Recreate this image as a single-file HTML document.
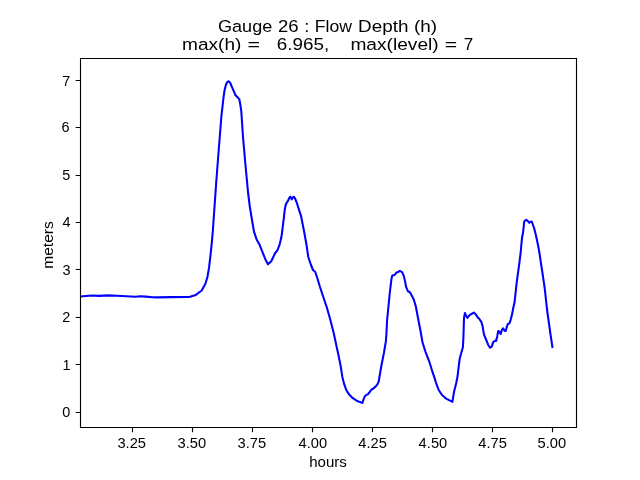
<!DOCTYPE html>
<html><head><meta charset="utf-8"><title>Gauge 26 : Flow Depth (h)</title><style>html,body{margin:0;padding:0;background:#fff;width:640px;height:480px;overflow:hidden}svg{display:block;will-change:transform}text{font-family:"Liberation Sans",sans-serif;fill:#000;white-space:pre}</style></head><body>
<svg width="640" height="480" viewBox="0 0 640 480">
<rect x="0" y="0" width="640" height="480" fill="#fff"/>
<defs><clipPath id="ax"><rect x="80" y="57.6" width="496" height="369.6"/></clipPath></defs><path id="curve" clip-path="url(#ax)" d="M80 296.5 L86 296 L92 295.5 L99 295.9 L108 295.4 L117 295.8 L126 296.3 L136 296.7 L140 296.3 L146 296.6 L152 297.2 L157 297.4 L170.8 297.1 L188.6 297 L190 296.8 L195.8 294.9 L201.7 290.5 L205.3 284 L207.5 276.7 L209 267.9 L210.4 256.2 L211.9 241.7 L212.9 230 L216.25 182 L218.75 149.5 L221.5 115 L222.5 106.7 L223.5 97.5 L224.6 90 L226 84.6 L227.5 81.8 L228.5 81.25 L230 82.5 L232 87.1 L233.75 91.2 L235.5 95.25 L237.8 97.6 L239.3 99.3 L240.2 104 L241.25 110.8 L243 137 L245.2 162 L248 192 L249.8 206.7 L252 220 L254 231.7 L256.5 239.2 L259.3 244.2 L262.3 251.7 L265.3 259.2 L268 264.3 L271.25 261.25 L275.2 253 L277.4 250.3 L279.6 244.6 L281.3 237.6 L282.2 231.5 L282.6 228 L283.8 218.3 L284.7 210 L285.7 205 L286.75 202.5 L288 200.8 L289.25 197.9 L290.3 196.7 L291.75 199.3 L293 197.1 L294 196.7 L295.1 198.75 L296.75 202.5 L298.8 209.2 L301 215.8 L304.2 232 L306.3 243.7 L308.3 257 L310.8 264.5 L313 270 L315.3 272 L317.5 278.7 L320 287 L322.2 293.7 L327 308 L330.3 319.7 L333.7 333 L336.2 344.7 L338.7 356.3 L340.7 366.3 L342.3 376.7 L344.2 384.2 L346.25 390 L349.2 394.6 L352.5 397.9 L356.7 400.7 L360 402.1 L362.4 402.9 L364.3 397.25 L365.9 395.1 L367.75 394.4 L369.6 392.25 L371.2 389.75 L373.1 388.8 L375.25 386.9 L377.4 384.4 L378.7 381.6 L379.6 376 L381.5 365 L384 352.5 L385.9 341.2 L386.5 332.5 L387.1 320 L389.1 300 L389.6 294.5 L390.7 285.3 L391.5 278.7 L392.3 275.5 L394.6 274.9 L396.25 272.8 L398.3 272 L399.8 270.75 L402.3 272.4 L404 276.6 L405.1 281.6 L406.2 287.2 L407.9 291.1 L410.1 292.5 L412.2 296.4 L413.75 299.5 L415.8 306.3 L418 318 L420.3 329.7 L422.5 342.2 L425.3 351.3 L429.2 361.3 L432.4 371.7 L434.1 376.7 L436.2 383.3 L438.7 390 L442 395 L445.75 398.3 L449.5 400.4 L452.4 401.8 L454 392 L456.3 382.7 L457.6 376 L458.7 366.7 L459.7 358.7 L461.3 352.7 L462.9 347.3 L463.3 340 L463.5 334.2 L464 318.1 L464.9 313 L465.9 315.2 L467.4 317.8 L469.6 315.2 L471.8 313.75 L473.9 312.6 L475.8 314.4 L477.6 317.2 L479.4 319 L481.3 321.8 L482.6 326.3 L484 334.6 L485.9 339.2 L488.1 344.7 L490 347.6 L491.75 346.6 L493.2 342.2 L494.8 340.8 L496.1 341.1 L497.2 336.5 L498.2 331 L499.5 331.8 L500.7 333.9 L501.75 330.2 L503.1 328.3 L504.5 330.7 L505.7 331 L506.75 327.1 L507.8 324 L509.4 323.4 L510.7 319.8 L512 314.6 L513.2 308.3 L514.6 302 L516.6 283.3 L519.4 262.6 L520.75 252 L521.3 245.3 L522 237.8 L523 232.8 L523.7 227 L524.1 222 L524.9 220.5 L526.6 219.9 L528 221.2 L529.3 222.8 L530.5 221.8 L531.8 221.6 L532.8 224.5 L534.3 228.7 L535.75 234.5 L537 240.3 L538.25 246.2 L539.3 252 L541.5 266.7 L544.6 287.5 L547.1 310 L548.65 321.25 L550.5 334.4 L552.4 347" fill="none" stroke="#0000ff" stroke-width="2.08" stroke-linejoin="round" stroke-linecap="square"/>
<g id="axes" fill="none" stroke="#000" stroke-width="1.11">
<path d="M80.5 58.5H576.5V427.5H80.5Z" stroke-linejoin="miter"/>
<path d="M132.5 427.5V432.36M192.5 427.5V432.36M252.5 427.5V432.36M312.5 427.5V432.36M372.5 427.5V432.36M432.5 427.5V432.36M492.5 427.5V432.36M552.5 427.5V432.36M80.5 412.5H75.64M80.5 364.5H75.64M80.5 317.5H75.64M80.5 269.5H75.64M80.5 222.5H75.64M80.5 175.5H75.64M80.5 127.5H75.64M80.5 80.5H75.64"/>
</g>
<text id="t1_0" transform="translate(217.99 31.8) scale(1.0847 1.0000)" font-size="16.6667">Gauge</text>
<text id="t1_1" transform="translate(277.89 31.8) scale(1.1105 1.0000)" font-size="16.6667">26</text>
<text id="t1_2" transform="translate(304.13 31.8) scale(1.1000 1.0000)" font-size="16.6667">:</text>
<text id="t1_3" transform="translate(314.86 31.8) scale(1.0561 1.0000)" font-size="16.6667">Flow</text>
<text id="t1_4" transform="translate(358.08 31.8) scale(1.1330 1.0000)" font-size="16.6667">Depth</text>
<text id="t1_5" transform="translate(413.92 31.8) scale(1.1349 1.0000)" font-size="16.6667">(h)</text>
<text id="t2_0" transform="translate(182.1 49.9) scale(1.1435 1.0000)" font-size="16.6667">max(h)</text>
<text id="t2_1" transform="translate(247.52 49.9) scale(1.2877 1.0000)" font-size="16.6667">=</text>
<text id="t2_2" transform="translate(276.68 49.9) scale(1.1325 1.0000)" font-size="16.6667">6.965,</text>
<text id="t2_3" transform="translate(350.43 49.9) scale(1.1491 1.0000)" font-size="16.6667">max(level)</text>
<text id="t2_4" transform="translate(444.78 49.9) scale(1.2753 1.0000)" font-size="16.6667">=</text>
<text id="t2_5" transform="translate(463.68 49.9) scale(1.0229 1.0000)" font-size="16.6667">7</text>
<text id="xlabel" transform="translate(309.21 466.67) scale(1.0847 1.0382)" font-size="13.8889">hours</text>
<text id="ylabel" transform="translate(52.56 268.81) rotate(-90) scale(1.1241 1.0500)" font-size="13.8889">meters</text>
<text id="x3.25" transform="translate(117.39 448) scale(1.0600 1.0450)" font-size="13.8889">3.25</text>
<text id="x3.50" transform="translate(177.53 448.21) scale(1.0600 1.0450)" font-size="13.8889">3.50</text>
<text id="x3.75" transform="translate(237.51 448.24) scale(1.0600 1.0450)" font-size="13.8889">3.75</text>
<text id="x4.00" transform="translate(298.52 448.01) scale(1.0600 1.0450)" font-size="13.8889">4.00</text>
<text id="x4.25" transform="translate(358.31 448) scale(1.0600 1.0450)" font-size="13.8889">4.25</text>
<text id="x4.50" transform="translate(418.61 448.04) scale(1.0600 1.0450)" font-size="13.8889">4.50</text>
<text id="x4.75" transform="translate(478.3 448.11) scale(1.0600 1.0450)" font-size="13.8889">4.75</text>
<text id="x5.00" transform="translate(537.56 448.09) scale(1.0600 1.0450)" font-size="13.8889">5.00</text>
<text id="y0" transform="translate(62.36 417.34) scale(1.0400 1.0450)" font-size="13.8889">0</text>
<text id="y1" transform="translate(62.53 370.14) scale(1.0400 1.0450)" font-size="13.8889">1</text>
<text id="y2" transform="translate(62.22 322.14) scale(1.0400 1.0450)" font-size="13.8889">2</text>
<text id="y3" transform="translate(62.53 275.36) scale(1.0400 1.0450)" font-size="13.8889">3</text>
<text id="y4" transform="translate(62.43 227.04) scale(1.0400 1.0450)" font-size="13.8889">4</text>
<text id="y5" transform="translate(62.18 180.46) scale(1.0400 1.0450)" font-size="13.8889">5</text>
<text id="y6" transform="translate(61.38 132.3) scale(1.0400 1.0450)" font-size="13.8889">6</text>
<text id="y7" transform="translate(62.36 85.62) scale(1.0400 1.0450)" font-size="13.8889">7</text>
</svg></body></html>
